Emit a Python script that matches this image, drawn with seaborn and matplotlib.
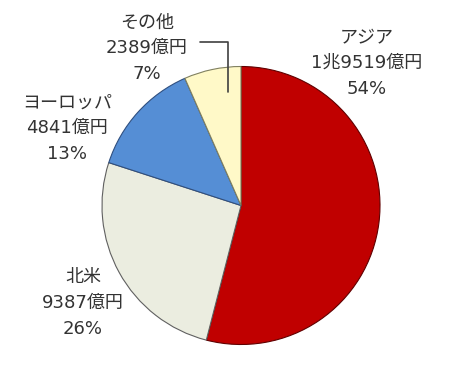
import matplotlib.pyplot as plt
import seaborn as sns

# 地域別売上
regions = ['アジア', '北米', 'ヨーロッパ', 'その他']
sales = [19519, 9387, 4841, 2389]  # 億円
colors = ['#C00000', '#EBEDE0', '#558ED5', '#FFF9C8']
edges = ['#600000', '#606060', '#2F4F80', '#808060']

sns.set_theme(style='white')
# 数字はDejaVu (Verdana風)、日本語はNoto
plt.rcParams['font.family'] = ['DejaVu Sans', 'Noto Sans CJK JP']


def fmt_oku(v):
    # 1万億円以上は「兆」表記
    if v >= 10000:
        return f'{v // 10000}兆{v % 10000}億円'
    return f'{v}億円'


fig = plt.figure(figsize=(4.56, 3.65), dpi=100)
ax = fig.add_axes([0, 0, 1, 1])

wedges, _ = ax.pie(sales, colors=colors, startangle=90, counterclock=False,
                   center=(241, 159.5), radius=139, frame=True,
                   wedgeprops={'linewidth': 0.8})
for w, ec in zip(wedges, edges):
    w.set_edgecolor(ec)
ax.set_xlim(0, 456)
ax.set_ylim(0, 365)
ax.axis('off')

total = sum(sales)
label_pos = [(367, 302), (83, 62), (67, 237), (147, 317)]
for name, v, (x, y) in zip(regions, sales, label_pos):
    txt = f'{name}\n{fmt_oku(v)}\n{round(v / total * 100)}%'
    ax.text(x, y, txt, ha='center', va='center', fontsize=13, color='#333333',
            linespacing=1.55)

# その他 の引き出し線
ax.plot([200, 228, 228], [323, 323, 273], color='#404040', lw=1.2)

fig.savefig('out.png', dpi=100)
